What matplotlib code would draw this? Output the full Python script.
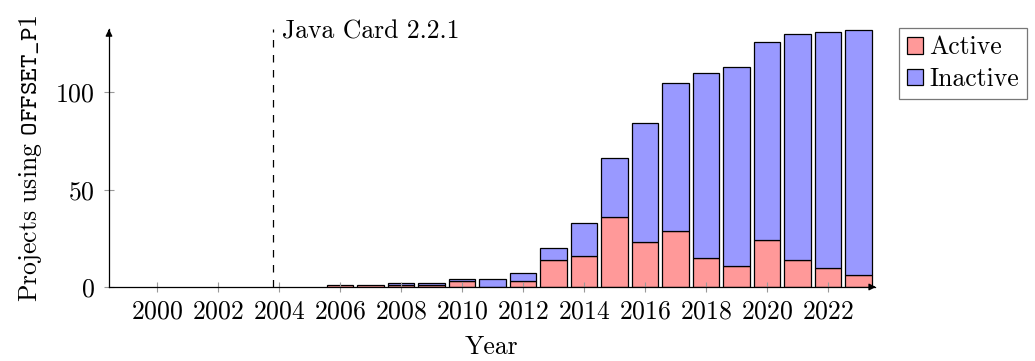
#!/usr/bin/env python3
"""Stacked bars: projects using OFFSET_P1 per year, active vs inactive."""
import matplotlib

matplotlib.use("Agg")
import matplotlib.pyplot as plt
from matplotlib.patches import Patch

YEARS = list(range(2000, 2024))
ACTIVE = [0, 0, 0, 0, 0, 0, 1, 1, 1, 1, 3, 0, 3, 14, 16, 36, 23, 29, 15, 11, 24, 14, 10, 6]
INACTIVE = [0, 0, 0, 0, 0, 0, 0, 0, 1, 1, 1, 4, 4, 6, 17, 30, 61, 76, 95, 102, 102, 116, 121, 126]
XTICKS = list(range(2000, 2023, 2))
YTICKS = [0, 50, 100]
RELEASE_YEAR = 2003.8
RELEASE_LABEL = "Java Card 2.2.1"

RED = "#ff9999"
BLUE = "#9999ff"

plt.rcParams["font.family"] = ["cmr10", "DejaVu Serif"]
plt.rcParams["mathtext.fontset"] = "cm"
plt.rcParams["axes.unicode_minus"] = False
plt.rcParams["axes.formatter.use_mathtext"] = True

FS = 18.5
LW = 0.9

fig = plt.figure(figsize=(10.35, 3.61), dpi=100)
ax = fig.add_axes([0.1053, 0.205, 0.740, 0.7147])

# skip empty segments so zero-height bars don't leave outlines on the axis
act = [(y, a) for y, a in zip(YEARS, ACTIVE) if a > 0]
ina = [(y, i, a) for y, i, a in zip(YEARS, INACTIVE, ACTIVE) if i > 0]
ax.bar([y for y, _ in act], [a for _, a in act], width=0.87, color=RED,
       edgecolor="black", linewidth=LW)
ax.bar([y for y, _, _ in ina], [i for _, i, _ in ina],
       bottom=[a for _, _, a in ina], width=0.87, color=BLUE,
       edgecolor="black", linewidth=LW)

ax.axvline(RELEASE_YEAR, color="black", linewidth=LW, dashes=(6, 6))
ax.text(RELEASE_YEAR + 0.3, 127.6, RELEASE_LABEL, fontsize=FS,
        va="baseline", ha="left")

ax.set_xlim(1998.43, 2023.54)
ax.set_ylim(0, 132.5)
ax.set_xticks(XTICKS)
ax.set_yticks(YTICKS)
ax.tick_params(axis="both", direction="inout", length=7, color="#999999",
               labelsize=FS, width=0.8)
ax.tick_params(axis="x", pad=6)
ax.tick_params(axis="y", pad=7)

for s in ("top", "right"):
    ax.spines[s].set_visible(False)
for s in ("left", "bottom"):
    ax.spines[s].set_linewidth(LW)

# arrow heads on the axes
ax.annotate("", xy=(1.005, 0), xytext=(0.99, 0), xycoords="axes fraction",
            arrowprops=dict(arrowstyle="-|>", color="black", lw=LW,
                            mutation_scale=10), annotation_clip=False)
ax.annotate("", xy=(0, 1.01), xytext=(0, 0.98), xycoords="axes fraction",
            arrowprops=dict(arrowstyle="-|>", color="black", lw=LW,
                            mutation_scale=10), annotation_clip=False)

ax.set_xlabel("Year", fontsize=FS, labelpad=8)
ax.set_ylabel(r"Projects using $\mathtt{OFFSET\_P1}$", fontsize=FS, labelpad=8)

handles = [Patch(facecolor=RED, edgecolor="black", linewidth=LW, label="Active"),
           Patch(facecolor=BLUE, edgecolor="black", linewidth=LW, label="Inactive")]
leg = fig.legend(handles=handles, loc="upper left", bbox_to_anchor=(0.8686, 0.9224),
                 fontsize=FS, frameon=True, fancybox=False, handlelength=0.62,
                 handleheight=0.6, handletextpad=0.27, borderpad=0.3,
                 labelspacing=0.3, borderaxespad=0)
leg.get_frame().set_edgecolor("#555555")
leg.get_frame().set_linewidth(LW)

fig.savefig("out.png", dpi=100)
